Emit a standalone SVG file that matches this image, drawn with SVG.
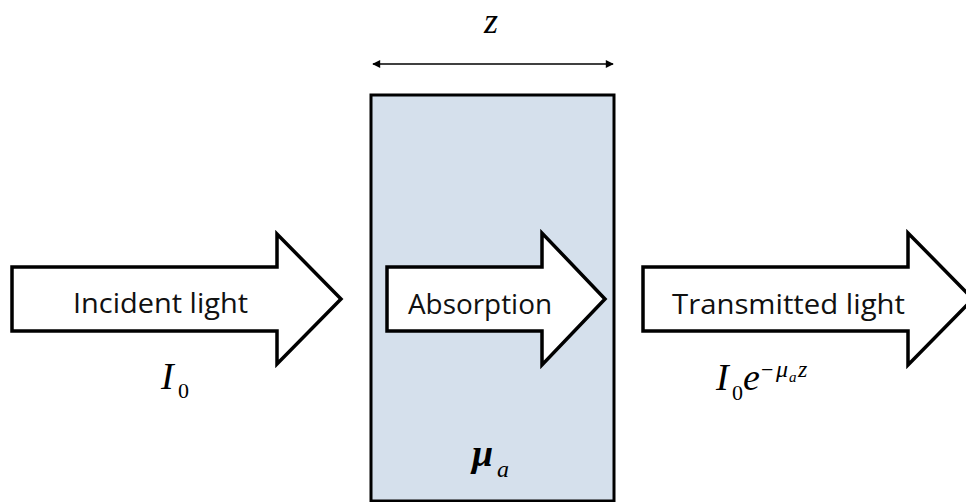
<svg xmlns="http://www.w3.org/2000/svg" width="966" height="502" viewBox="0 0 966 502">
<defs>
<marker id="ah" viewBox="0 0 10 10" refX="9" refY="5" markerWidth="10" markerHeight="8" markerUnits="userSpaceOnUse" orient="auto-start-reverse"><path d="M0,0 L10,5 L0,10 Z" fill="#000"/></marker>
</defs>
<style>
.arrow{fill:#fff;stroke:#000;stroke-width:3.5;stroke-linejoin:miter}
.lbl{font-family:"Open Sans","Liberation Sans",Arial,sans-serif;font-size:27px;fill:#111}
.math{font-family:"Liberation Serif","Times New Roman",serif;font-style:italic;fill:#000}
.num{font-family:"Liberation Serif","Times New Roman",serif;fill:#000}
</style>
<rect width="966" height="502" fill="#fff"/>
<g id="medium">
<rect x="371" y="95" width="243" height="406" fill="#d5e0ec" stroke="#000" stroke-width="3"/>
<text class="math" x="472" y="466" font-size="38" font-weight="bold">μ</text>
<text class="math" x="497" y="477" font-size="24">a</text>
</g>
<g id="connectors">
<line x1="373" y1="64" x2="613" y2="64" stroke="#000" stroke-width="1.5" marker-start="url(#ah)" marker-end="url(#ah)"/>
<text class="math" x="491" y="33" font-size="36" text-anchor="middle">z</text>
</g>
<g id="incident">
<path class="arrow" d="M12,267 L277,267 L277,234 L341,299 L277,364 L277,331 L12,331 Z"/>
<text class="lbl" x="73" y="313" textLength="175" lengthAdjust="spacingAndGlyphs">Incident light</text>
<text class="math" x="161" y="389" font-size="38">I</text>
<text class="num" x="178" y="398" font-size="22">0</text>
</g>
<g id="absorption">
<path class="arrow" d="M387,267 L542,267 L542,233 L605,299 L542,365 L542,331 L387,331 Z"/>
<text class="lbl" x="408" y="314" textLength="144" lengthAdjust="spacingAndGlyphs">Absorption</text>
</g>
<g id="transmitted">
<path class="arrow" d="M643,267 L908,267 L908,233 L973,299 L908,365 L908,331 L643,331 Z"/>
<text class="lbl" x="672" y="314" textLength="233" lengthAdjust="spacingAndGlyphs">Transmitted light</text>
<text class="math" x="716" y="390" font-size="38">I</text>
<text class="num" x="732" y="400" font-size="22">0</text>
<text class="math" x="743" y="390" font-size="38">e</text>
<text class="num" x="761" y="377" font-size="22">−</text>
<text class="math" x="776" y="377" font-size="24">μ</text>
<text class="math" x="789" y="382" font-size="15">a</text>
<text class="math" x="798" y="377" font-size="24">z</text>
</g>
</svg>
